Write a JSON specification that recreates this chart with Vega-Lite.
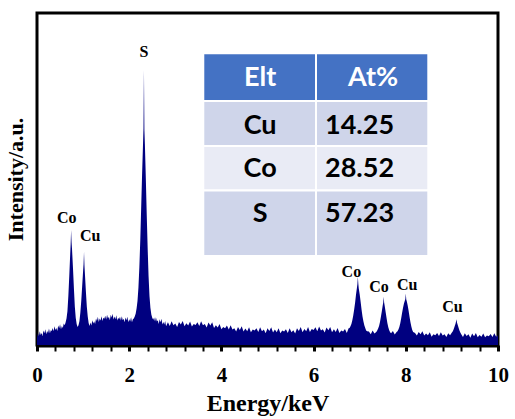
{
  "$schema": "https://vega.github.io/schema/vega-lite/v6.json",
  "width": 461,
  "height": 332,
  "autosize": "none",
  "padding": {"left": 37, "top": 13, "right": 17, "bottom": 74},
  "background": "white",
  "config": {
    "view": {"stroke": "black", "strokeWidth": 3},
    "axis": {"grid": false}
  },
  "datasets": {
    "spec": [
      {"e":0.00,"i":3.0},{"e":0.02,"i":4.5},{"e":0.04,"i":3.5},{"e":0.06,"i":5.0},{"e":0.08,"i":3.9},{"e":0.10,"i":4.5},{"e":0.12,"i":3.6},{"e":0.14,"i":5.2},{"e":0.16,"i":4.4},{"e":0.18,"i":5.6},{"e":0.20,"i":4.1},{"e":0.22,"i":5.1},{"e":0.24,"i":4.5},{"e":0.26,"i":5.8},{"e":0.28,"i":4.4},{"e":0.30,"i":5.3},{"e":0.32,"i":5.1},{"e":0.34,"i":6.0},{"e":0.36,"i":5.0},{"e":0.38,"i":6.5},{"e":0.40,"i":5.4},{"e":0.42,"i":6.0},{"e":0.44,"i":5.1},{"e":0.46,"i":6.7},{"e":0.48,"i":5.9},{"e":0.50,"i":7.1},{"e":0.52,"i":5.6},{"e":0.54,"i":6.6},{"e":0.56,"i":6.0},{"e":0.58,"i":7.3},{"e":0.60,"i":6.8},
      {"e":0.62,"i":7.6},{"e":0.64,"i":8.8},{"e":0.66,"i":11.0},{"e":0.68,"i":15.5},{"e":0.70,"i":21.5},{"e":0.72,"i":28.0},{"e":0.73,"i":31.0},{"e":0.74,"i":35.2},{"e":0.75,"i":31.5},{"e":0.76,"i":29.5},{"e":0.78,"i":24.0},{"e":0.80,"i":18.0},{"e":0.82,"i":12.5},{"e":0.84,"i":9.0},{"e":0.86,"i":7.2},{"e":0.88,"i":6.3},{"e":0.90,"i":6.8},{"e":0.92,"i":8.0},{"e":0.94,"i":10.5},
      {"e":0.96,"i":14.0},{"e":0.98,"i":18.5},{"e":1.00,"i":23.0},{"e":1.01,"i":25.0},{"e":1.02,"i":28.7},{"e":1.03,"i":24.5},{"e":1.04,"i":22.0},{"e":1.06,"i":17.0},{"e":1.08,"i":12.5},{"e":1.10,"i":9.5},{"e":1.12,"i":7.5},{"e":1.14,"i":6.6},
      {"e":1.16,"i":7.6},{"e":1.18,"i":6.7},{"e":1.20,"i":8.3},{"e":1.22,"i":7.3},{"e":1.24,"i":8.0},{"e":1.26,"i":7.2},{"e":1.28,"i":8.8},{"e":1.30,"i":8.1},{"e":1.32,"i":9.3},{"e":1.34,"i":7.8},{"e":1.36,"i":8.8},{"e":1.38,"i":8.2},{"e":1.40,"i":9.5},{"e":1.42,"i":8.1},{"e":1.44,"i":9.0},{"e":1.46,"i":8.7},{"e":1.48,"i":9.6},{"e":1.50,"i":8.5},{"e":1.52,"i":9.9},{"e":1.54,"i":8.8},{"e":1.56,"i":9.3},{"e":1.58,"i":8.3},{"e":1.60,"i":9.9},{"e":1.62,"i":9.1},{"e":1.64,"i":10.2},{"e":1.66,"i":8.5},{"e":1.68,"i":9.4},{"e":1.70,"i":8.6},{"e":1.72,"i":9.8},{"e":1.74,"i":8.2},{"e":1.76,"i":9.0},{"e":1.78,"i":8.6},{"e":1.80,"i":9.3},{"e":1.82,"i":8.2},{"e":1.84,"i":9.5},{"e":1.86,"i":8.3},{"e":1.88,"i":8.7},{"e":1.90,"i":7.7},{"e":1.92,"i":9.1},{"e":1.94,"i":8.3},{"e":1.96,"i":9.3},{"e":1.98,"i":7.7},{"e":2.00,"i":8.6},{"e":2.02,"i":7.9},{"e":2.04,"i":9.2},{"e":2.06,"i":7.7},{"e":2.08,"i":8.6},
      {"e":2.10,"i":8.8},{"e":2.12,"i":9.4},{"e":2.14,"i":10.2},{"e":2.16,"i":11.8},{"e":2.18,"i":14.0},{"e":2.20,"i":18.0},{"e":2.22,"i":24.0},{"e":2.24,"i":32.0},{"e":2.26,"i":42.0},{"e":2.28,"i":52.0},{"e":2.30,"i":61.0},{"e":2.31,"i":65.7},{"e":2.32,"i":83.0},{"e":2.33,"i":65.0},{"e":2.34,"i":61.0},{"e":2.36,"i":51.0},{"e":2.38,"i":40.0},{"e":2.40,"i":30.0},{"e":2.42,"i":21.5},{"e":2.44,"i":15.5},{"e":2.46,"i":12.0},{"e":2.48,"i":10.0},{"e":2.50,"i":9.0},
      {"e":2.52,"i":8.4},{"e":2.54,"i":9.1},{"e":2.56,"i":7.9},{"e":2.58,"i":9.2},{"e":2.60,"i":7.9},{"e":2.62,"i":8.3},{"e":2.64,"i":7.2},{"e":2.66,"i":8.6},{"e":2.68,"i":7.7},{"e":2.70,"i":8.7},{"e":2.72,"i":7.0},{"e":2.74,"i":7.8},{"e":2.76,"i":7.0},{"e":2.78,"i":8.1},{"e":2.80,"i":6.5},
      {"e":2.84,"i":7.7},{"e":2.88,"i":6.6},{"e":2.92,"i":8.0},{"e":2.96,"i":6.8},{"e":3.00,"i":7.3},{"e":3.04,"i":6.3},{"e":3.08,"i":7.8},{"e":3.12,"i":7.0},{"e":3.16,"i":8.1},{"e":3.20,"i":6.5},{"e":3.24,"i":7.4},{"e":3.28,"i":6.7},{"e":3.32,"i":7.9},{"e":3.36,"i":6.4},{"e":3.40,"i":7.2},{"e":3.44,"i":6.9},{"e":3.48,"i":7.7},{"e":3.52,"i":6.6},{"e":3.56,"i":8.0},{"e":3.60,"i":6.8},{"e":3.64,"i":7.2},{"e":3.68,"i":6.1},{"e":3.72,"i":7.6},{"e":3.76,"i":6.7},{"e":3.80,"i":7.7},{"e":3.84,"i":6.0},{"e":3.88,"i":6.8},{"e":3.92,"i":6.1},{"e":3.96,"i":7.2},{"e":4.00,"i":5.6},{"e":4.04,"i":6.3},{"e":4.08,"i":5.9},{"e":4.12,"i":6.7},{"e":4.16,"i":5.5},{"e":4.20,"i":6.8},{"e":4.24,"i":5.5},{"e":4.28,"i":5.9},{"e":4.32,"i":4.9},{"e":4.36,"i":6.3},{"e":4.40,"i":5.4},{"e":4.44,"i":6.5},{"e":4.48,"i":4.9},{"e":4.52,"i":5.8},{"e":4.56,"i":5.0},{"e":4.60,"i":6.2},{"e":4.64,"i":4.7},{"e":4.68,"i":5.5},{"e":4.72,"i":5.2},{"e":4.76,"i":5.9},{"e":4.80,"i":4.8},{"e":4.84,"i":6.2},{"e":4.88,"i":5.0},{"e":4.92,"i":5.5},{"e":4.96,"i":4.4},{"e":5.00,"i":5.9},{"e":5.04,"i":5.1},{"e":5.08,"i":6.2},{"e":5.12,"i":4.6},{"e":5.16,"i":5.5},{"e":5.20,"i":4.7},{"e":5.24,"i":5.9},{"e":5.28,"i":4.4},{"e":5.32,"i":5.2},{"e":5.36,"i":4.9},{"e":5.40,"i":5.6},{"e":5.44,"i":4.5},{"e":5.48,"i":5.9},{"e":5.52,"i":4.7},{"e":5.56,"i":5.3},{"e":5.60,"i":4.3},{"e":5.64,"i":5.9},{"e":5.68,"i":5.1},{"e":5.72,"i":6.3},{"e":5.76,"i":4.7},{"e":5.80,"i":5.7},{"e":5.84,"i":5.0},{"e":5.88,"i":6.3},{"e":5.92,"i":4.8},{"e":5.96,"i":5.7},{"e":6.00,"i":5.4},{"e":6.04,"i":6.2},{"e":6.08,"i":5.0},{"e":6.12,"i":6.4},{"e":6.16,"i":5.2},{"e":6.20,"i":5.6},{"e":6.24,"i":4.6},{"e":6.28,"i":6.1},{"e":6.32,"i":5.3},{"e":6.36,"i":6.3},{"e":6.40,"i":4.7},{"e":6.44,"i":5.6},{"e":6.48,"i":4.8},{"e":6.52,"i":6.0},{"e":6.56,"i":4.5},{"e":6.60,"i":5.2},{"e":6.64,"i":4.9},{"e":6.68,"i":5.7},{"e":6.72,"i":4.5},{"e":6.76,"i":5.9},
      {"e":6.78,"i":6.0},{"e":6.80,"i":6.5},{"e":6.82,"i":7.2},{"e":6.84,"i":8.3},{"e":6.86,"i":9.7},{"e":6.88,"i":11.5},{"e":6.90,"i":13.5},{"e":6.92,"i":16.0},{"e":6.94,"i":18.0},{"e":6.95,"i":19.0},{"e":6.96,"i":21.3},{"e":6.97,"i":19.2},{"e":6.98,"i":17.8},{"e":7.00,"i":16.0},{"e":7.02,"i":13.8},{"e":7.04,"i":11.5},{"e":7.06,"i":9.5},{"e":7.08,"i":8.0},{"e":7.10,"i":6.8},{"e":7.12,"i":6.0},{"e":7.14,"i":5.2},{"e":7.16,"i":5.0},{"e":7.20,"i":4.9},{"e":7.24,"i":4.1},{"e":7.28,"i":5.2},{"e":7.32,"i":4.3},{"e":7.36,"i":4.8},
      {"e":7.38,"i":5.2},{"e":7.40,"i":5.8},{"e":7.42,"i":6.6},{"e":7.44,"i":7.8},{"e":7.46,"i":9.3},{"e":7.48,"i":11.0},{"e":7.50,"i":12.8},{"e":7.51,"i":13.5},{"e":7.52,"i":15.3},{"e":7.53,"i":13.6},{"e":7.54,"i":12.8},{"e":7.56,"i":11.0},{"e":7.58,"i":9.2},{"e":7.60,"i":7.5},{"e":7.62,"i":6.2},{"e":7.64,"i":5.3},{"e":7.66,"i":4.7},{"e":7.68,"i":4.4},{"e":7.72,"i":5.1},{"e":7.76,"i":4.0},{"e":7.80,"i":4.8},
      {"e":7.82,"i":5.0},{"e":7.84,"i":5.5},{"e":7.86,"i":6.3},{"e":7.88,"i":7.4},{"e":7.90,"i":8.9},{"e":7.92,"i":10.5},{"e":7.94,"i":12.0},{"e":7.96,"i":13.3},{"e":7.98,"i":14.2},{"e":7.99,"i":14.6},{"e":8.00,"i":16.3},{"e":8.01,"i":14.5},{"e":8.02,"i":14.0},{"e":8.04,"i":12.8},{"e":8.06,"i":11.2},{"e":8.08,"i":9.4},{"e":8.10,"i":7.8},{"e":8.12,"i":6.4},{"e":8.14,"i":5.4},{"e":8.16,"i":4.8},
      {"e":8.20,"i":4.5},{"e":8.24,"i":3.7},{"e":8.28,"i":4.8},{"e":8.32,"i":4.1},{"e":8.36,"i":5.0},{"e":8.40,"i":3.7},{"e":8.44,"i":4.3},{"e":8.48,"i":3.8},{"e":8.52,"i":4.7},{"e":8.56,"i":3.4},{"e":8.60,"i":4.1},{"e":8.64,"i":3.8},{"e":8.68,"i":4.5},{"e":8.72,"i":3.6},{"e":8.76,"i":4.7},{"e":8.80,"i":3.7},{"e":8.84,"i":4.1},{"e":8.88,"i":3.3},{"e":8.92,"i":4.4},{"e":8.96,"i":3.8},
      {"e":9.00,"i":4.6},{"e":9.02,"i":5.0},{"e":9.04,"i":5.7},{"e":9.06,"i":6.5},{"e":9.08,"i":7.3},{"e":9.10,"i":8.6},{"e":9.11,"i":7.6},{"e":9.12,"i":7.2},{"e":9.14,"i":6.3},{"e":9.16,"i":5.4},{"e":9.18,"i":4.7},
      {"e":9.20,"i":4.2},{"e":9.24,"i":3.3},{"e":9.28,"i":4.4},{"e":9.32,"i":3.6},{"e":9.36,"i":4.1},{"e":9.40,"i":3.1},{"e":9.44,"i":4.3},{"e":9.48,"i":3.5},{"e":9.52,"i":4.5},{"e":9.56,"i":3.2},{"e":9.60,"i":3.9},{"e":9.64,"i":3.4},{"e":9.68,"i":4.3},{"e":9.72,"i":3.2},{"e":9.76,"i":3.7},{"e":9.80,"i":3.5},{"e":9.84,"i":4.2},{"e":9.88,"i":3.3},{"e":9.92,"i":4.4},{"e":9.96,"i":3.4},{"e":10.00,"i":3.8}
    ],
    "peaks": [
      {"e":2.32,"i":88.4,"el":"S"},
      {"e":0.644,"i":38.9,"el":"Co"},
      {"e":1.155,"i":33.4,"el":"Cu"},
      {"e":6.82,"i":22.8,"el":"Co"},
      {"e":7.42,"i":18.1,"el":"Co"},
      {"e":8.03,"i":18.8,"el":"Cu"},
      {"e":9.01,"i":12.1,"el":"Cu"}
    ],
    "cells": [
      {"x1":3.607,"x2":6.052,"y1":88.0,"y2":73.7,"kind":"header"},
      {"x1":6.052,"x2":8.488,"y1":88.0,"y2":73.7,"kind":"header"},
      {"x1":3.607,"x2":6.052,"y1":73.7,"y2":60.3,"kind":"shade"},
      {"x1":6.052,"x2":8.488,"y1":73.7,"y2":60.3,"kind":"shade"},
      {"x1":3.607,"x2":6.052,"y1":60.3,"y2":47.0,"kind":"light"},
      {"x1":6.052,"x2":8.488,"y1":60.3,"y2":47.0,"kind":"light"},
      {"x1":3.607,"x2":6.052,"y1":47.0,"y2":27.5,"kind":"shade"},
      {"x1":6.052,"x2":8.488,"y1":47.0,"y2":27.5,"kind":"shade"}
    ],
    "texts": [
      {"x":4.84,"y":80.5,"t":"Elt","part":"header"},
      {"x":7.29,"y":80.5,"t":"At%","part":"header"},
      {"x":4.84,"y":66.3,"t":"Cu","part":"elt"},
      {"x":4.84,"y":53.3,"t":"Co","part":"elt"},
      {"x":4.84,"y":40.0,"t":"S","part":"elt"},
      {"x":6.247,"y":66.3,"t":"14.25","part":"val"},
      {"x":6.247,"y":53.3,"t":"28.52","part":"val"},
      {"x":6.247,"y":40.0,"t":"57.23","part":"val"}
    ]
  },
  "layer": [
    {
      "data": {"name": "spec"},
      "mark": {"type": "area", "color": "#000080", "interpolate": "linear", "clip": true},
      "encoding": {
        "x": {
          "field": "e", "type": "quantitative",
          "scale": {"domain": [0, 10], "nice": false, "zero": false},
          "axis": {
            "values": [0,0.4,0.8,1.2,1.6,2,2.4,2.8,3.2,3.6,4,4.4,4.8,5.2,5.6,6,6.4,6.8,7.2,7.6,8,8.4,8.8,9.2,9.6,10],
            "tickCount": 40,
            "tickMinStep": 0.2,
            "labelExpr": "datum.value % 2 === 0 ? format(datum.value, 'd') : ''",
            "domain": true, "domainWidth": 4, "domainColor": "black",
            "ticks": true, "tickSize": 6, "tickColor": "black",
            "tickWidth": {"condition": {"test": "datum.value % 2 === 0", "value": 3}, "value": 2},
            "labelFont": "Liberation Serif", "labelFontWeight": "bold", "labelFontSize": 21, "labelColor": "black",
            "labelPadding": 13, "labelFlush": false, "labelOverlap": false,
            "title": "Energy/keV",
            "titleFont": "Liberation Serif", "titleFontWeight": "bold", "titleFontSize": 24, "titleColor": "black",
            "titlePadding": 6
          }
        },
        "y": {
          "field": "i", "type": "quantitative",
          "scale": {"domain": [0.9, 100], "nice": false, "zero": false},
          "axis": {
            "labels": false, "ticks": false, "domain": false,
            "title": "Intensity/a.u.",
            "titleFont": "Liberation Serif", "titleFontWeight": "bold", "titleFontSize": 22, "titleColor": "black",
            "titlePadding": 10
          }
        }
      }
    },
    {
      "data": {"name": "cells"},
      "mark": {"type": "rect", "stroke": "white", "strokeWidth": 2},
      "encoding": {
        "x": {"field": "x1", "type": "quantitative"},
        "x2": {"field": "x2"},
        "y": {"field": "y1", "type": "quantitative"},
        "y2": {"field": "y2"},
        "fill": {
          "field": "kind", "type": "nominal",
          "scale": {"domain": ["header", "shade", "light"], "range": ["#4472C4", "#CFD5EA", "#E9EBF5"]},
          "legend": null
        }
      }
    },
    {
      "data": {"name": "texts"},
      "transform": [{"filter": "datum.part === 'header'"}],
      "mark": {"type": "text", "color": "white", "font": "Lato", "fontWeight": "bold", "fontSize": 27, "align": "center", "baseline": "middle"},
      "encoding": {
        "x": {"field": "x", "type": "quantitative"},
        "y": {"field": "y", "type": "quantitative"},
        "text": {"field": "t"}
      }
    },
    {
      "data": {"name": "texts"},
      "transform": [{"filter": "datum.part === 'elt'"}],
      "mark": {"type": "text", "color": "black", "font": "Lato", "fontWeight": "bold", "fontSize": 27, "align": "center", "baseline": "middle"},
      "encoding": {
        "x": {"field": "x", "type": "quantitative"},
        "y": {"field": "y", "type": "quantitative"},
        "text": {"field": "t"}
      }
    },
    {
      "data": {"name": "texts"},
      "transform": [{"filter": "datum.part === 'val'"}],
      "mark": {"type": "text", "color": "black", "font": "Lato", "fontWeight": "bold", "fontSize": 27, "align": "left", "baseline": "middle"},
      "encoding": {
        "x": {"field": "x", "type": "quantitative"},
        "y": {"field": "y", "type": "quantitative"},
        "text": {"field": "t"}
      }
    },
    {
      "data": {"name": "peaks"},
      "mark": {"type": "text", "color": "black", "font": "Liberation Serif", "fontWeight": "bold", "fontSize": 16, "align": "center", "baseline": "middle"},
      "encoding": {
        "x": {"field": "e", "type": "quantitative"},
        "y": {"field": "i", "type": "quantitative"},
        "text": {"field": "el"}
      }
    }
  ]
}
